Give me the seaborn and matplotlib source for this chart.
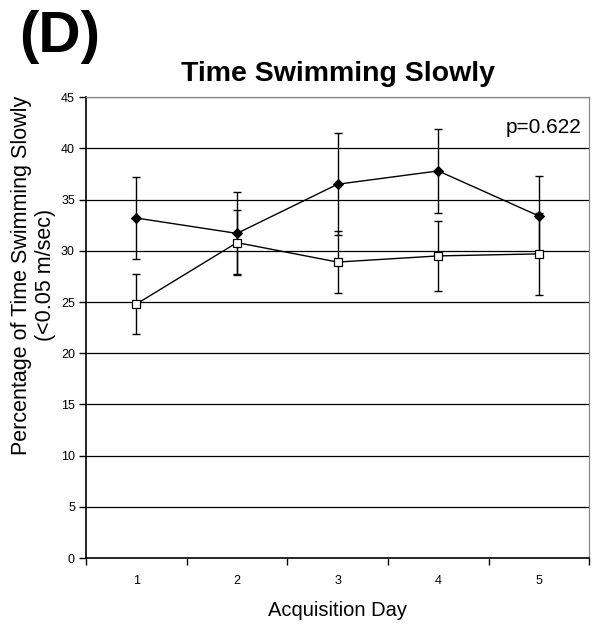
import matplotlib
matplotlib.use("Agg")
import matplotlib.pyplot as plt
import seaborn as sns
import pandas as pd
import numpy as np

days = ["1", "2", "3", "4", "5"]
filled_mean = [33.2, 31.7, 36.5, 37.8, 33.4]
filled_err = [4.0, 4.0, 5.0, 4.1, 3.9]
open_mean = [24.8, 30.8, 28.9, 29.5, 29.7]
open_err = [2.9, 3.2, 3.0, 3.45, 4.0]
yticks = [0, 5, 10, 15, 20, 25, 30, 35, 40, 45]

sns.set_theme(style="white")
plt.rcParams['font.family'] = ['Liberation Sans', 'DejaVu Sans']
plt.rcParams['text.color'] = 'black'
plt.rcParams['axes.labelcolor'] = 'black'
plt.rcParams['xtick.color'] = 'black'
plt.rcParams['ytick.color'] = 'black'

fig = plt.figure(figsize=(5.99, 6.27), dpi=100)
ax = fig.add_axes([0.1436, 0.110, 0.840, 0.735])

x = np.arange(len(days))
df = pd.DataFrame({"x": np.concatenate([x, x]),
                   "y": filled_mean + open_mean,
                   "grp": ["filled"] * 5 + ["open"] * 5})

for g in yticks[1:]:
    ax.axhline(g, color="black", lw=0.9, zorder=0)

ax.errorbar(x, filled_mean, yerr=filled_err, fmt="none", ecolor="black",
            elinewidth=1.0, capsize=3, capthick=1.0, zorder=2)
ax.errorbar(x, open_mean, yerr=open_err, fmt="none", ecolor="black",
            elinewidth=1.0, capsize=3, capthick=1.0, zorder=2)

sns.lineplot(data=df[df.grp == "filled"], x="x", y="y", ax=ax, color="black",
             lw=1.0, marker="D", markersize=5.5, markerfacecolor="black",
             markeredgecolor="black", zorder=3, legend=False)
sns.lineplot(data=df[df.grp == "open"], x="x", y="y", ax=ax, color="black",
             lw=1.0, marker="s", markersize=6, markerfacecolor="white",
             markeredgecolor="black", markeredgewidth=0.9, zorder=3, legend=False)

ax.set_xlim(-0.5, 4.5)
ax.set_ylim(0, 45)
ax.set_yticks(yticks)
ax.set_yticklabels([str(v) for v in yticks], fontsize=9)
ax.set_xticks(np.arange(-0.5, 4.6, 1.0))
ax.set_xticklabels([""] * 6)
ax.set_xticks(x, minor=True)
ax.set_xticklabels(days, minor=True, fontsize=9)
ax.tick_params(axis="x", which="major", direction="out", length=5, width=1, color="black", bottom=True)
ax.tick_params(axis="x", which="minor", length=0, pad=12, bottom=True)
ax.tick_params(axis="y", direction="out", length=5, width=1, color="black", left=True, pad=3)

for s in ["left", "bottom"]:
    ax.spines[s].set_color("black")
    ax.spines[s].set_linewidth(1.2)
for s in ["top", "right"]:
    ax.spines[s].set_color("#888888")
    ax.spines[s].set_linewidth(0.9)

ax.set_xlabel("Acquisition Day", fontsize=14.5, labelpad=10)
ax.set_ylabel("Percentage of Time Swimming Slowly\n(<0.05 m/sec)", fontsize=15.5)
ax.yaxis.set_label_coords(-0.06, 0.614)
ax.set_title("Time Swimming Slowly", fontsize=20.5, fontweight="bold", pad=12)

ax.text(0.985, 0.935, "p=0.622", transform=ax.transAxes, ha="right", va="center", fontsize=15)
fig.text(0.032, 0.984, "(D)", fontsize=42, fontweight="bold", ha="left", va="top")

fig.savefig("out.png", dpi=100)
